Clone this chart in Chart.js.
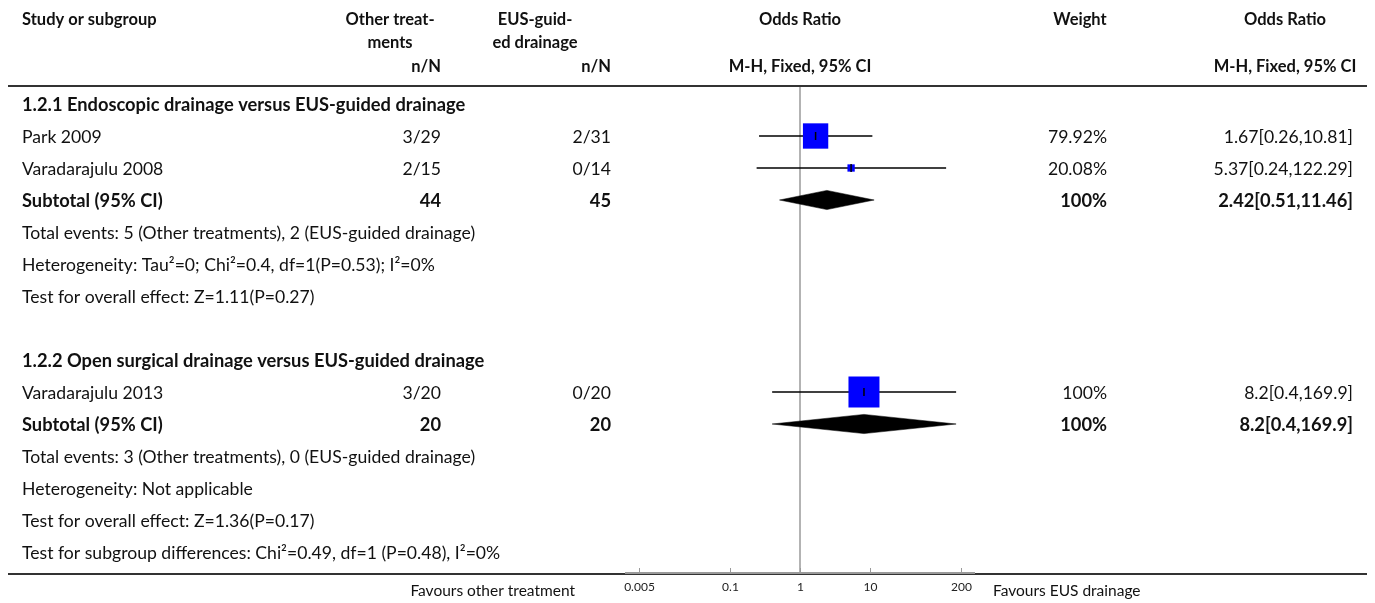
<!DOCTYPE html>
<html>
<head>
<meta charset="utf-8">
<script src="https://cdn.jsdelivr.net/npm/chart.js@4.4.1/dist/chart.umd.min.js"></script>
<style>
html,body{margin:0;padding:0;background:#fff;}
#wrap{position:relative;width:1375px;height:603px;}
</style>
</head>
<body>
<div id="wrap"><canvas id="c" width="1375" height="603"></canvas></div>
<script>
// ---- data ----
const rowLabels = [
  '1.2.1 Endoscopic drainage versus EUS-guided drainage',
  'Park 2009',
  'Varadarajulu 2008',
  'Subtotal (95% CI)',
  'Total events: 5 (Other treatments), 2 (EUS-guided drainage)',
  'Heterogeneity: Tau\u00b2=0; Chi\u00b2=0.4, df=1(P=0.53); I\u00b2=0%',
  'Test for overall effect: Z=1.11(P=0.27)',
  '',
  '1.2.2 Open surgical drainage versus EUS-guided drainage',
  'Varadarajulu 2013',
  'Subtotal (95% CI)',
  'Total events: 3 (Other treatments), 0 (EUS-guided drainage)',
  'Heterogeneity: Not applicable',
  'Test for overall effect: Z=1.36(P=0.17)',
  'Test for subgroup differences: Chi\u00b2=0.49, df=1 (P=0.48), I\u00b2=0%'
];
const boldRows = [0, 3, 8, 10];
const otherCol  = ['', '3/29', '2/15', '44', '', '', '', '', '', '3/20', '20', '', '', '', ''];
const eusCol    = ['', '2/31', '0/14', '45', '', '', '', '', '', '0/20', '20', '', '', '', ''];
const weightCol = ['', '79.92%', '20.08%', '100%', '', '', '', '', '', '100%', '100%', '', '', '', ''];
const orCol     = ['', '1.67[0.26,10.81]', '5.37[0.24,122.29]', '2.42[0.51,11.46]', '', '', '', '', '', '8.2[0.4,169.9]', '8.2[0.4,169.9]', '', '', '', ''];

const studyRows   = [1, 2, 9];
const studyOR     = [1.67, 5.37, 8.2];
const studyLow    = [0.26, 0.24, 0.4];
const studyHigh   = [10.81, 122.29, 169.9];
const studyWeight = [79.92, 20.08, 100];

const subRows = [3, 10];
const subOR   = [2.42, 8.2];
const subLow  = [0.51, 0.4];
const subHigh = [11.46, 169.9];

const tickValues = [0.005, 0.1, 1, 10, 200];
const tickLabels = ['0.005', '0.1', '1', '10', '200'];

const headers = {
  study: 'Study or subgroup',
  other: ['Other treat-', 'ments', 'n/N'],
  eus: ['EUS-guid-', 'ed drainage', 'n/N'],
  or1: ['Odds Ratio', 'M-H, Fixed, 95% CI'],
  weight: 'Weight',
  or2: ['Odds Ratio', 'M-H, Fixed, 95% CI']
};
const favLeft = 'Favours other treatment';
const favRight = 'Favours EUS drainage';

// ---- styles ----
const FONT = '"Lato", "Noto Sans", sans-serif';
const FS = 17.6;
const FS_ROWBOLD = 18.3;
const FS_HEAD = 16.5;
const FS_FAV = 15.5;
const TXT = '#111';
const HALF_DIAMOND = 0.3;

function sideFromWeight(w) { return 31 * Math.pow(w / 100, 0.9); }

const datasets = [];
// tick marks at point estimates (drawn on top)
datasets.push({
  type: 'scatter',
  data: studyRows.map((r, i) => ({ x: studyOR[i], y: r })),
  pointStyle: 'line', rotation: 90, pointRadius: 4,
  borderColor: '#000', borderWidth: 1.5, backgroundColor: '#000'
});
// squares
datasets.push({
  type: 'scatter',
  data: studyRows.map((r, i) => ({ x: studyOR[i], y: r })),
  pointStyle: 'rect',
  pointRadius: ctx => sideFromWeight(studyWeight[ctx.dataIndex]) / (2 * Math.SQRT1_2),
  backgroundColor: '#0000ff', borderWidth: 0, borderColor: '#0000ff'
});
// CI lines
studyRows.forEach((r, i) => {
  datasets.push({
    type: 'scatter', showLine: true,
    data: [{ x: studyLow[i], y: r }, { x: studyHigh[i], y: r }],
    borderColor: '#000', borderWidth: 1.5, pointRadius: 0
  });
});
// diamonds
subRows.forEach((r, i) => {
  datasets.push({
    type: 'scatter', showLine: true, fill: 'shape', tension: 0,
    data: [
      { x: subLow[i], y: r }, { x: subOR[i], y: r - HALF_DIAMOND },
      { x: subHigh[i], y: r }, { x: subOR[i], y: r + HALF_DIAMOND },
      { x: subLow[i], y: r }
    ],
    borderColor: '#000', backgroundColor: '#000', borderWidth: 0.5, pointRadius: 0
  });
});

const tablePlugin = {
  id: 'table',
  beforeDraw(chart) {
    const { ctx, width, height } = chart;
    ctx.save(); ctx.fillStyle = '#fff'; ctx.fillRect(0, 0, width, height); ctx.restore();
  },
  beforeDatasetsDraw(chart) {
    const { ctx, chartArea, scales: { x } } = chart;
    const px = x.getPixelForValue(1);
    ctx.save();
    ctx.strokeStyle = '#9a9a9a'; ctx.lineWidth = 1.5;
    ctx.beginPath(); ctx.moveTo(px, chartArea.top); ctx.lineTo(px, chartArea.bottom); ctx.stroke();
    ctx.restore();
  },
  afterDraw(chart) {
    const { ctx, chartArea, scales: { x, y } } = chart;
    ctx.save();
    ctx.fillStyle = TXT;
    ctx.textBaseline = 'middle';
    const head = 'bold ' + FS_HEAD + 'px ' + FONT;
    const bold = 'bold ' + FS_ROWBOLD + 'px ' + FONT;
    const norm = FS + 'px ' + FONT;
    const cols = { study: 22, other: 441, eus: 611, weight: 1107, or2: 1353 };
    const hdr = [20, 43, 67];

    // headers
    ctx.font = head;
    ctx.textAlign = 'left';
    ctx.fillText(headers.study, cols.study, hdr[0]);
    ctx.textAlign = 'center';
    ctx.fillText(headers.other[0], 390, hdr[0]);
    ctx.fillText(headers.other[1], 390, hdr[1]);
    ctx.fillText(headers.eus[0], 535, hdr[0]);
    ctx.fillText(headers.eus[1], 535, hdr[1]);
    const mid = x.getPixelForValue(1);
    ctx.fillText(headers.or1[0], mid, hdr[0]);
    ctx.fillText(headers.or1[1], mid, hdr[2]);
    ctx.fillText(headers.weight, 1080, hdr[0]);
    ctx.fillText(headers.or2[0], 1285, hdr[0]);
    ctx.fillText(headers.or2[1], 1285, hdr[2]);
    ctx.textAlign = 'right';
    ctx.fillText(headers.other[2], cols.other, hdr[2]);
    ctx.fillText(headers.eus[2], cols.eus, hdr[2]);

    // rules
    ctx.strokeStyle = '#333'; ctx.lineWidth = 2;
    ctx.beginPath(); ctx.moveTo(8, chartArea.top); ctx.lineTo(1367, chartArea.top); ctx.stroke();
    ctx.beginPath(); ctx.moveTo(8, chartArea.bottom); ctx.lineTo(1367, chartArea.bottom); ctx.stroke();

    // rows
    rowLabels.forEach((lab, i) => {
      const py = y.getPixelForValue(i) + 1;
      ctx.font = boldRows.includes(i) ? bold : norm;
      ctx.textAlign = 'left';
      ctx.fillText(lab, cols.study, py);
      ctx.textAlign = 'right';
      ctx.fillText(otherCol[i], cols.other, py);
      ctx.fillText(eusCol[i], cols.eus, py);
      ctx.fillText(weightCol[i], cols.weight, py);
      ctx.fillText(orCol[i], cols.or2, py);
    });

    // axis
    const ab = chartArea.bottom;
    ctx.strokeStyle = '#9a9a9a'; ctx.lineWidth = 2;
    ctx.beginPath(); ctx.moveTo(chartArea.left, ab - 1); ctx.lineTo(chartArea.right, ab - 1); ctx.stroke();
    ctx.lineWidth = 1;
    ctx.font = '12px ' + FONT;
    ctx.textAlign = 'center';
    ctx.fillStyle = '#222';
    tickValues.forEach((v, i) => {
      const tx = Math.round(x.getPixelForValue(v)) + 0.5;
      ctx.beginPath(); ctx.moveTo(tx, ab - 6); ctx.lineTo(tx, ab - 1); ctx.stroke();
      ctx.fillText(tickLabels[i], tx, ab + 13);
    });
    ctx.font = FS_FAV + 'px ' + FONT; ctx.fillStyle = TXT;
    ctx.textAlign = 'right';
    ctx.fillText(favLeft, 575, ab + 17);
    ctx.textAlign = 'left';
    ctx.fillText(favRight, 993, ab + 17);
    ctx.restore();
  }
};

new Chart(document.getElementById('c'), {
  data: { datasets },
  options: {
    responsive: false,
    animation: false,
    layout: { padding: { left: 625, right: 400, top: 86, bottom: 29 } },
    plugins: { legend: { display: false }, tooltip: { enabled: false } },
    scales: {
      x: { type: 'logarithmic', display: false, min: Math.pow(10, -2.5), max: Math.pow(10, 2.5) },
      y: { type: 'linear', display: false, reverse: true, min: -0.5625, max: 14.6875 }
    }
  },
  plugins: [tablePlugin]
});
</script>
</body>
</html>
